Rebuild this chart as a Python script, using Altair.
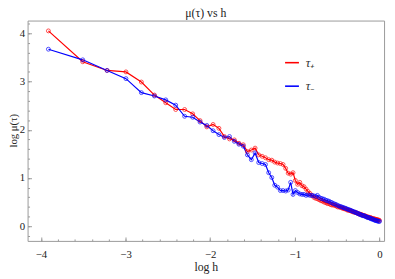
import altair as alt
import numpy as np
import pandas as pd

# h grid (0.02 ... 1.00)
h = [0.02, 0.03, 0.04, 0.05, 0.06, 0.07, 0.08, 0.09, 0.10,
     0.11, 0.12, 0.13, 0.14, 0.15, 0.16, 0.17, 0.18, 0.19, 0.20,
     0.21, 0.22, 0.23, 0.24, 0.25, 0.26, 0.27, 0.28, 0.29, 0.30,
     0.31, 0.32, 0.33, 0.34, 0.35, 0.36, 0.37, 0.38, 0.39, 0.40,
     0.41, 0.42, 0.43, 0.44, 0.45, 0.46, 0.47, 0.48, 0.49, 0.50,
     0.51, 0.52, 0.53, 0.54, 0.55, 0.56, 0.57, 0.58, 0.59, 0.60,
     0.61, 0.62, 0.63, 0.64, 0.65, 0.66, 0.67, 0.68, 0.69, 0.70,
     0.71, 0.72, 0.73, 0.74, 0.75, 0.76, 0.77, 0.78, 0.79, 0.80,
     0.81, 0.82, 0.83, 0.84, 0.85, 0.86, 0.87, 0.88, 0.89, 0.90,
     0.91, 0.92, 0.93, 0.94, 0.95, 0.96, 0.97, 0.98, 0.99, 1.00]

# log mu(tau+)
mu_plus = [4.05, 3.41, 3.23, 3.20, 2.99, 2.72, 2.56, 2.42, 2.42,
           2.33, 2.19, 2.06, 2.11, 2.03, 1.86, 1.81, 1.79, 1.72, 1.69,
           1.55, 1.58, 1.62, 1.48, 1.45, 1.42, 1.38, 1.37, 1.33, 1.31,
           1.30, 1.28, 1.20, 1.10, 1.08, 1.11, 0.95, 0.87, 0.91, 0.84,
           0.82, 0.77, 0.72, 0.68, 0.64, 0.60, 0.58, 0.57, 0.55, 0.53,
           0.52, 0.50, 0.49, 0.47, 0.47, 0.45, 0.44, 0.44, 0.43, 0.42,
           0.40, 0.40, 0.39, 0.38, 0.37, 0.36, 0.36, 0.34, 0.33, 0.33,
           0.32, 0.31, 0.30, 0.29, 0.29, 0.28, 0.27, 0.26, 0.25, 0.25,
           0.24, 0.23, 0.22, 0.22, 0.21, 0.20, 0.19, 0.19, 0.18, 0.18,
           0.17, 0.16, 0.16, 0.15, 0.15, 0.14, 0.14, 0.13, 0.13, 0.12]

# log mu(tau-)
mu_minus = [3.67, 3.45, 3.23, 3.06, 2.77, 2.70, 2.62, 2.51, 2.28,
            2.26, 2.16, 2.09, 1.98, 1.90, 1.84, 1.86, 1.76, 1.70, 1.66,
            1.48, 1.38, 1.52, 1.32, 1.30, 1.28, 1.11, 1.01, 0.85, 0.81,
            0.74, 0.74, 0.73, 0.75, 0.91, 0.66, 0.74, 0.70, 0.67, 0.66,
            0.66, 0.64, 0.65, 0.64, 0.64, 0.63, 0.62, 0.64, 0.60, 0.58,
            0.57, 0.56, 0.54, 0.53, 0.52, 0.50, 0.49, 0.47, 0.46, 0.45,
            0.43, 0.42, 0.41, 0.40, 0.39, 0.38, 0.37, 0.36, 0.35, 0.34,
            0.33, 0.32, 0.31, 0.30, 0.29, 0.28, 0.27, 0.26, 0.25, 0.24,
            0.23, 0.22, 0.22, 0.21, 0.20, 0.19, 0.18, 0.18, 0.17, 0.16,
            0.15, 0.15, 0.14, 0.13, 0.12, 0.12, 0.11, 0.11, 0.10, 0.10]

series_names = ["τ₊", "τ₋"]
series_colors = ["#ff0000", "#0000ff"]

x_major = [-4, -3, -2, -1, 0]
x_minor = [round(v, 1) for v in np.arange(-4.0, 0.01, 0.2)]
y_major = [0, 1, 2, 3, 4]
y_minor = [round(v, 1) for v in np.arange(-0.2, 4.21, 0.2)]

logh = np.log(np.array(h))
df = pd.concat([
    pd.DataFrame({"logh": logh, "mu": mu_plus, "series": series_names[0]}),
    pd.DataFrame({"logh": logh, "mu": mu_minus, "series": series_names[1]}),
])

FONT = "Liberation Serif"
GRAY = "#999999"
TXT = "#222222"

xs = alt.Scale(domain=[-4.158, 0.054], nice=False, zero=False)
ys = alt.Scale(domain=[-0.304, 4.264], nice=False, zero=False)
color = alt.Color("series:N",
                  scale=alt.Scale(domain=series_names, range=series_colors),
                  legend=alt.Legend(orient="none", legendX=262, legendY=35,
                                    title=None, symbolType="stroke",
                                    symbolSize=200, symbolStrokeWidth=1.6,
                                    labelFont=FONT, labelFontSize=13,
                                    labelFontStyle="italic",
                                    labelColor="#333333",
                                    rowPadding=9, labelOffset=6))

x_axis_major = alt.Axis(values=x_major, format="d", offset=-4, tickSize=4,
                        domain=False, grid=False, tickColor=GRAY,
                        labelFont=FONT, labelFontSize=11, labelColor=TXT,
                        labelPadding=8, title="log h", titleFont=FONT,
                        titleFontSize=12, titleFontWeight="normal",
                        titleColor=TXT, titleX=182, titleY=30,
                        titleBaseline="middle")
y_axis_major = alt.Axis(values=y_major, format="d", offset=-4, tickSize=4,
                        domain=False, grid=False, tickColor=GRAY,
                        labelFont=FONT, labelFontSize=11, labelColor=TXT,
                        labelPadding=3, title="log μ(τ)", titleFont=FONT,
                        titleFontSize=11, titleFontWeight="normal",
                        titleColor=TXT, titleX=-18, titleY=112,
                        titleBaseline="middle", titleAngle=-90)
x_axis_minor = alt.Axis(values=x_minor, offset=-2, tickSize=2, labels=False,
                        domain=False, grid=False, tickColor=GRAY, title=None,
                        orient="bottom")
y_axis_minor = alt.Axis(values=y_minor, offset=-2, tickSize=2, labels=False,
                        domain=False, grid=False, tickColor=GRAY, title=None,
                        orient="left")

lines = alt.Chart(df).mark_line(strokeWidth=1.2).encode(
    x=alt.X("logh:Q", scale=xs, axis=x_axis_major),
    y=alt.Y("mu:Q", scale=ys, axis=y_axis_major),
    color=color,
    detail="series:N",
)
points = alt.Chart(df).mark_point(filled=False, size=16, strokeWidth=1).encode(
    x=alt.X("logh:Q", scale=xs, axis=x_axis_minor),
    y=alt.Y("mu:Q", scale=ys, axis=y_axis_minor),
    color=alt.Color("series:N",
                    scale=alt.Scale(domain=series_names, range=series_colors),
                    legend=None),
)

chart = alt.layer(lines, points).resolve_axis(
    x="independent", y="independent"
).properties(
    width=364, height=225,
    autosize=alt.AutoSizeParams(type="none"),
    padding={"left": 20, "top": 10, "right": 3, "bottom": 33},
    title=alt.TitleParams("μ(τ) vs h", font=FONT, fontSize=12,
                          fontWeight="normal", color=TXT,
                          anchor="middle", baseline="alphabetic", offset=1,
                          dy=9),
).configure_view(stroke=GRAY, strokeWidth=1)

chart.save("out.html", embed_options={"renderer": "svg", "actions": False})
